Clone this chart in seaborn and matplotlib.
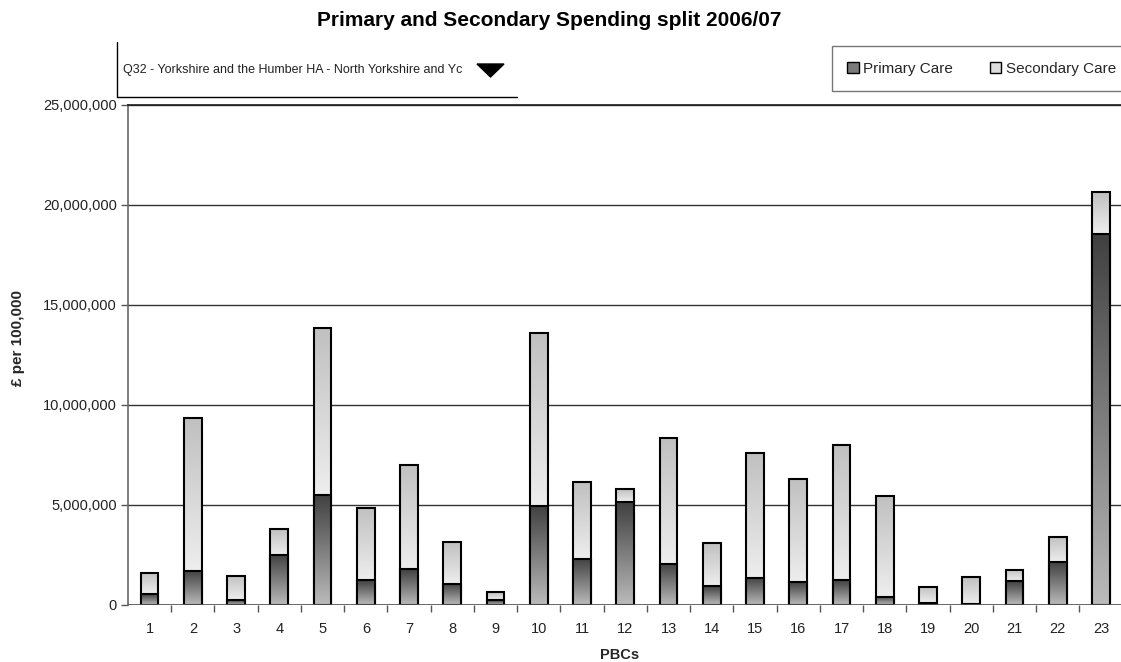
import numpy as np
import pandas as pd
import matplotlib
matplotlib.use("Agg")
import matplotlib.pyplot as plt
import seaborn as sns
from matplotlib.colors import LinearSegmentedColormap
from matplotlib.patches import Patch, Polygon
from matplotlib.lines import Line2D
from matplotlib.ticker import FuncFormatter, MultipleLocator

# ---- data ----
pbcs = [str(i) for i in range(1, 24)]
primary = [0.55, 1.72, 0.25, 2.52, 5.52, 1.23, 1.78, 1.07, 0.23, 4.97, 2.32, 5.15,
           2.07, 0.95, 1.37, 1.13, 1.25, 0.42, 0.08, 0.03, 1.18, 2.15, 18.57]
total = [1.62, 9.37, 1.47, 3.82, 13.87, 4.83, 7.00, 3.17, 0.63, 13.60, 6.17, 5.80,
         8.37, 3.12, 7.60, 6.32, 7.98, 5.47, 0.92, 1.38, 1.75, 3.42, 20.67]
primary = [v * 1e6 for v in primary]
total = [v * 1e6 for v in total]
secondary = [t - p for t, p in zip(total, primary)]

title = "Primary and Secondary Spending split 2006/07"
dropdown_text = "Q32 - Yorkshire and the Humber HA - North Yorkshire and Yc"

df = pd.DataFrame({"PBC": pbcs, "Primary": primary, "Secondary": secondary, "Total": total})

sns.set_theme(style="white")
plt.rcParams["font.family"] = ["Liberation Sans", "DejaVu Sans"]

W, H = 1121, 662
fig = plt.figure(figsize=(W / 100, H / 100), dpi=100)
ax = fig.add_axes([128 / W, (H - 605) / H, (1122.6 - 128) / W, 500 / H])

bw = 0.41
n0 = len(ax.patches)
sns.barplot(data=df, x="PBC", y="Total", color="#dddddd", width=bw, ax=ax,
            edgecolor="black", linewidth=1.5, saturation=1)
sec_patches = ax.patches[n0:]
n1 = len(ax.patches)
sns.barplot(data=df, x="PBC", y="Primary", color="#808080", width=bw, ax=ax,
            edgecolor="black", linewidth=1.5, saturation=1)
pri_patches = ax.patches[n1:]

ax.set_xlim(-0.5, len(pbcs) - 0.5)
ax.set_ylim(0, 25e6)

cm_sec = LinearSegmentedColormap.from_list("sec", ["#eeeeee", "#c0c0c0"])
cm_pri = LinearSegmentedColormap.from_list("pri", ["#bbbbbb", "#404040"])
grad = np.linspace(0, 1, 256).reshape(-1, 1)

for patch, p in zip(sec_patches, primary):
    x, w = patch.get_x(), patch.get_width()
    top = patch.get_y() + patch.get_height()
    patch.set_facecolor("none")
    patch.set_zorder(3)
    im = ax.imshow(grad, extent=[x, x + w, p, top], origin="lower", aspect="auto",
                   cmap=cm_sec, zorder=2, interpolation="bilinear")
    im.set_clip_path(patch)

for patch in pri_patches:
    x, w = patch.get_x(), patch.get_width()
    y0, h = patch.get_y(), patch.get_height()
    patch.set_facecolor("none")
    patch.set_zorder(5)
    if h > 0:
        im = ax.imshow(grad, extent=[x, x + w, y0, y0 + h], origin="lower", aspect="auto",
                       cmap=cm_pri, zorder=4, interpolation="bilinear")
        im.set_clip_path(patch)

ax.set_xlim(-0.5, len(pbcs) - 0.5)
ax.set_ylim(0, 25e6)
ax.set_aspect("auto")

# gridlines
ax.yaxis.set_major_locator(MultipleLocator(5e6))
ax.yaxis.grid(True, color="#333333", linewidth=1)
ax.set_axisbelow(True)
ax.yaxis.set_major_formatter(FuncFormatter(lambda v, _: f"{int(v):,}"))

for s in ["right", "bottom"]:
    ax.spines[s].set_visible(False)
ax.spines["top"].set_visible(True)
ax.spines["top"].set_color("#222222")
ax.spines["left"].set_color("#666666")
ax.spines["left"].set_linewidth(1.2)
ax.axhline(0, color="#555555", linewidth=1.2, zorder=6)

# ticks
ax.tick_params(axis="y", which="major", direction="out", length=5, width=1,
               color="#555555", labelsize=10.5, labelcolor="#222222", left=True, pad=3)
ax.set_xticks(np.arange(len(pbcs)))
ax.set_xticklabels(pbcs)
ax.tick_params(axis="x", which="major", length=0, labelsize=10.5, labelcolor="#222222", pad=12)
ax.set_xticks(np.arange(len(pbcs) - 1) + 0.5, minor=True)
ax.tick_params(axis="x", which="minor", direction="out", length=5, width=1,
               color="#555555", bottom=True)

ax.set_xlabel("PBCs", fontsize=10.5, fontweight="bold")
ax.xaxis.set_label_coords((620 - 128) / (1122.6 - 128), -(655 - 605) / 500)
ax.xaxis.label.set_va("center")
ax.set_ylabel("£ per 100,000", fontsize=11, fontweight="bold")
ax.yaxis.set_label_coords(-(128 - 18) / (1122.6 - 128), (605 - 338) / 500)
ax.yaxis.label.set_va("center")

fig.text(549 / W, 1 - 20 / H, title, ha="center", va="center", fontsize=15,
         fontweight="bold", color="black")

# dropdown box
fig.add_artist(Line2D([117 / W, 117 / W], [1 - 42 / H, 1 - 97 / H], color="black", lw=1))
fig.add_artist(Line2D([117 / W, 517 / W], [1 - 97 / H, 1 - 97 / H], color="black", lw=1))
fig.text(123 / W, 1 - 70 / H, dropdown_text, ha="left", va="center", fontsize=9,
         color="#222222")
tri = Polygon([[477 / W, 1 - 64 / H], [504 / W, 1 - 64 / H], [490.5 / W, 1 - 77 / H]],
              closed=True, transform=fig.transFigure, facecolor="black", edgecolor="black")
fig.add_artist(tri)

# legend
handles = [Patch(facecolor="#7a7a7a", edgecolor="black", label="Primary Care"),
           Patch(facecolor="#dcdcdc", edgecolor="black", label="Secondary Care")]
leg = fig.legend(handles=handles, loc="center left", bbox_to_anchor=(832 / W, 1 - 68.5 / H),
                 ncol=2, frameon=True, fontsize=11, handlelength=0.75, handleheight=0.75,
                 handletextpad=0.3, columnspacing=2.4, borderpad=1.0, fancybox=False,
                 borderaxespad=0)
leg.get_frame().set_edgecolor("#555555")
leg.get_frame().set_linewidth(1)

fig.savefig("out.png", dpi=100, facecolor="white")
